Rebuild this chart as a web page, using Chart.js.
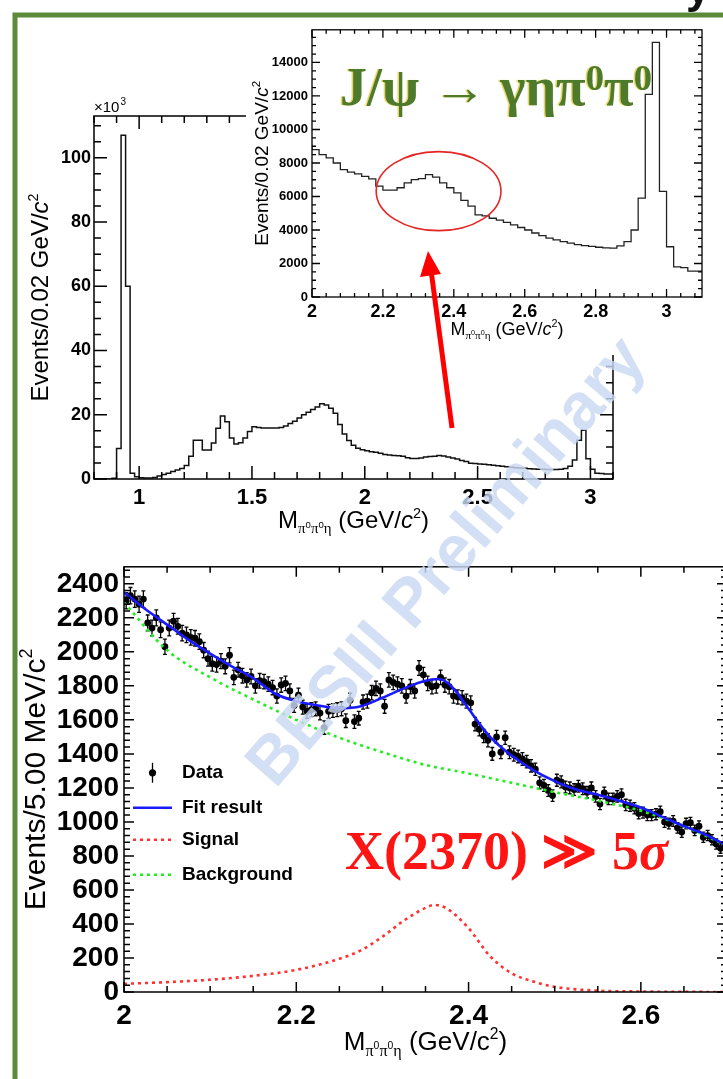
<!DOCTYPE html>
<html>
<head>
<meta charset="utf-8">
<script src="https://cdn.jsdelivr.net/npm/chart.js@4.4.1/dist/chart.umd.min.js"></script>
<style>
  html, body { margin: 0; padding: 0; background: #fff; }
  body { width: 723px; height: 1079px; overflow: hidden; position: relative; }
  canvas { position: absolute; }
  #cMain { left: 10px; top: 95px; }
  #cInset { left: 246px; top: 18px; }
  #cFit { left: 0; top: 545px; }
  #overlay { left: 0; top: 0; z-index: 5; pointer-events: none; }
  .txt { position: absolute; white-space: nowrap; font-family: "Liberation Serif", "DejaVu Serif", serif;
         font-weight: bold; line-height: 1; z-index: 6; }
  .txt .up { position: relative; top: -0.42em; font-size: 0.68em; }
  #title { left: 340px; top: 60px; font-size: 54px; color: #4e7b2b; text-shadow: -1.5px 0 1px rgba(215,185,0,0.65); }
  #signif { left: 345px; top: 824px; font-size: 54px; color: #ff1414; }
</style>
</head>
<body>
<canvas id="cMain" width="630" height="450"></canvas>
<canvas id="cInset" width="477" height="337"></canvas>
<canvas id="cFit" width="740" height="534"></canvas>
<canvas id="overlay" width="723" height="1079"></canvas>
<div class="txt" id="title">J/ψ → γηπ<span class="up">0</span>π<span class="up">0</span></div>
<div class="txt" id="signif">X(2370) ≫ 5<i>σ</i></div>

<script>
Chart.defaults.font.family = "'Liberation Sans', Arial, sans-serif";
Chart.defaults.color = "#000";

// M(pi0 pi0 eta) histogram, 0.02 GeV bins starting at 0.80
const histStart = 0.8;
const histBin = 0.02;
const histCounts = [
  0, 0, 0, 0, 0, 200, 9500, 107000, 60000, 1800,
  700, 400, 300, 300, 500, 900, 1400, 1800, 2300, 2800,
  3300, 4200, 7100, 12100, 12100, 9000, 9000, 11200, 15800, 19600,
  17800, 12800, 10900, 11300, 12800, 14800, 16300, 16000, 15900, 15900,
  15900, 15900, 16000, 16500, 17300, 18000, 19000, 20000, 20800, 21600,
  22400, 23400, 23000, 22000, 20500, 17000, 14000, 12000, 10500, 9600,
  9100, 8800, 8500, 8300, 8000, 7600, 7450, 7350, 7200, 7050,
  6620, 6380, 6380, 6520, 6810, 7010, 7070, 7300, 7150, 6810,
  6520, 6220, 5770, 5430, 4900, 4840, 4700, 4590, 4450, 4310,
  4150, 4000, 3820, 3660, 3520, 3410, 3310, 3210, 3130, 3070,
  3020, 2970, 2930, 2920, 3050, 3300, 4000, 5900, 12100, 15200,
  6300, 3000, 1800, 1750, 1550
];
const mainXTicks = [1, 1.5, 2, 2.5, 3];
const mainYTicks = [0, 20000, 40000, 60000, 80000, 100000];
const insetXTicks = [2, 2.2, 2.4, 2.6, 2.8, 3];
const insetYTicks = [0, 2000, 4000, 6000, 8000, 10000, 12000, 14000];

// fit region, 5 MeV bins starting at 2.000
const fitStart = 2.0;
const fitBin = 0.005;
const fitCounts = [
  2300, 2330, 2310, 2280, 2310, 2170, 2140, 2200, 2130, 2030,
  2140, 2180, 2150, 2110, 2100, 2085, 2080, 2060, 2010, 1960,
  1930, 1925, 1945, 1915, 1980, 1850, 1895, 1860, 1835, 1855,
  1800, 1830, 1825, 1810, 1790, 1740, 1805, 1815, 1770, 1685,
  1745, 1675, 1650, 1660, 1665, 1640, 1555, 1650, 1655, 1660,
  1665, 1595, 1715, 1590, 1610, 1705, 1710, 1760, 1785, 1770,
  1680, 1835, 1820, 1810, 1800, 1740, 1795, 1770, 1905, 1865,
  1815, 1795, 1800, 1850, 1805, 1795, 1740, 1735, 1730, 1710,
  1700, 1575, 1545, 1505, 1480, 1400, 1500, 1410, 1495, 1410,
  1395, 1385, 1370, 1355, 1330, 1310, 1230, 1215, 1185, 1155,
  1245, 1235, 1205, 1200, 1190, 1210, 1195, 1175, 1200, 1150,
  1105, 1170, 1135, 1135, 1150, 1160, 1100, 1095, 1080, 1050,
  1055, 1040, 1040, 1045, 1060, 1000, 990, 1005, 965, 940,
  990, 995, 950, 975, 910, 920, 895, 870, 845, 870
];
const totalX = [2.000, 2.025, 2.050, 2.075, 2.100, 2.125, 2.150, 2.175, 2.200, 2.225, 2.250, 2.275, 2.300, 2.325,
  2.350, 2.365, 2.375, 2.385, 2.400, 2.425, 2.450, 2.475, 2.500, 2.525, 2.550, 2.575, 2.600, 2.625, 2.650, 2.675, 2.700];
const totalY = [2350, 2250, 2160, 2070, 1990, 1915, 1846, 1755, 1710, 1685, 1668, 1680, 1730, 1785,
  1830, 1840, 1820, 1770, 1665, 1500, 1390, 1305, 1240, 1190, 1160, 1125, 1085, 1030, 975, 925, 860];
const bkgX = [2.00, 2.05, 2.10, 2.15, 2.20, 2.25, 2.30, 2.35, 2.40, 2.45, 2.50, 2.55, 2.60, 2.65, 2.70];
const bkgY = [2290, 2010, 1850, 1720, 1600, 1495, 1410, 1335, 1285, 1230, 1175, 1125, 1065, 975, 860];
const sigX = [2.00, 2.05, 2.10, 2.15, 2.20, 2.25, 2.275, 2.30, 2.325, 2.35, 2.36, 2.375, 2.40, 2.425, 2.45,
  2.475, 2.50, 2.55, 2.60, 2.65, 2.70];
const sigY = [48, 58, 72, 95, 130, 195, 245, 325, 420, 495, 512, 490, 375, 210, 110, 62, 30, 8, 3, 1, 0];
const fitXTicks = [2, 2.2, 2.4, 2.6];
const fitYTicks = [0, 200, 400, 600, 800, 1000, 1200, 1400, 1600, 1800, 2000, 2200, 2400];

const legendRows = ["Data", "Fit result", "Signal", "Background"];

// ---- helpers ----
const histPts = histCounts.map((v, i) => ({ x: +(histStart + i * histBin).toFixed(2), y: v }));
histPts.push({ x: +(histStart + histCounts.length * histBin).toFixed(2), y: histCounts[histCounts.length - 1] });

const pairs = (xs, ys) => xs.map((x, i) => ({ x: x, y: ys[i] }));

function axis(min, max, ticks, fmt, font, pad, size, isX) {
  return {
    type: "linear", min: min, max: max,
    afterBuildTicks: (s) => { s.ticks = ticks.map((v) => ({ value: v })); },
    afterFit: (s) => { if (isX) s.height = size; else s.width = size; },
    grid: { display: false, drawTicks: false },
    border: { display: false },
    ticks: { font: font, color: "#000", padding: pad, maxRotation: 0, autoSkip: false, callback: fmt }
  };
}

function fontOf(p, base) {
  const sz = (p.k || 1) * base;
  const fam = p.serif ? "'Liberation Serif', serif" : "'Liberation Sans', Arial, sans-serif";
  return (p.it ? "italic " : "") + (p.b ? "bold " : "") + sz + "px " + fam;
}

// draws a run of text parts centred on (x, y) baseline; rot = vertical
function rich(ctx, parts, x, y, base, rot) {
  ctx.save();
  ctx.translate(x, y);
  if (rot) ctx.rotate(-Math.PI / 2);
  ctx.textAlign = "left";
  ctx.textBaseline = "alphabetic";
  ctx.fillStyle = "#000";
  let w = 0;
  const ws = parts.map((p) => { ctx.font = fontOf(p, base); const m = ctx.measureText(p.t).width; w += m; return m; });
  let cx = -w / 2;
  parts.forEach((p, i) => {
    ctx.font = fontOf(p, base);
    ctx.fillText(p.t, cx, (p.dy || 0) * base);
    cx += ws[i];
  });
  ctx.restore();
}

function massTitle(italicC) {
  return [
    { t: "M" },
    { t: "π", k: 0.62, dy: 0.22, serif: 1 }, { t: "0", k: 0.4, dy: -0.02 },
    { t: "π", k: 0.62, dy: 0.22, serif: 1 }, { t: "0", k: 0.4, dy: -0.02 },
    { t: "η", k: 0.62, dy: 0.22, serif: 1 },
    { t: " (GeV/" }, { t: "c", it: italicC }, { t: "2", k: 0.6, dy: -0.42 }, { t: ")" }
  ];
}

// ROOT-like frame with inward ticks on all four sides plus axis titles
function frame(o) {
  return {
    id: "frame",
    beforeDraw(chart) {
      if (!o.bg) return;
      const ctx = chart.ctx;
      ctx.save();
      ctx.fillStyle = "#fff";
      ctx.fillRect(0, 0, chart.width, chart.height);
      ctx.restore();
    },
    afterDraw(chart) {
      const ctx = chart.ctx, a = chart.chartArea, x = chart.scales.x, y = chart.scales.y;
      ctx.save();
      ctx.strokeStyle = "#000";
      ctx.lineWidth = o.lw;
      ctx.strokeRect(a.left, a.top, a.right - a.left, a.bottom - a.top);
      ctx.beginPath();
      const nx = Math.floor((x.max - x.min) / o.xMinor + 1e-6);
      for (let i = 0; i <= nx; i++) {
        const v = x.min + i * o.xMinor;
        const maj = Math.abs(v / o.xMajor - Math.round(v / o.xMajor)) < 1e-6;
        const L = maj ? o.majLen : o.minLen;
        const p = x.getPixelForValue(v);
        ctx.moveTo(p, a.bottom); ctx.lineTo(p, a.bottom - L);
        ctx.moveTo(p, a.top); ctx.lineTo(p, a.top + L);
      }
      const ny = Math.floor((y.max - y.min) / o.yMinor + 1e-6);
      for (let i = 0; i <= ny; i++) {
        const v = y.min + i * o.yMinor;
        const maj = Math.abs(v / o.yMajor - Math.round(v / o.yMajor)) < 1e-6;
        const L = maj ? o.majLen : o.minLen;
        const p = y.getPixelForValue(v);
        ctx.moveTo(a.left, p); ctx.lineTo(a.left + L, p);
        ctx.moveTo(a.right, p); ctx.lineTo(a.right - L, p);
      }
      ctx.stroke();
      ctx.restore();
      rich(ctx, o.xTitle, (a.left + a.right) / 2, a.bottom + o.xTitleGap, o.xTitleSize, false);
      rich(ctx, o.yTitle, a.left - o.yTitleGap, (a.top + a.bottom) / 2, o.yTitleSize, true);
      if (o.extra) o.extra(chart);
    }
  };
}

const yEvents = [{ t: "Events/0.02 GeV/" }, { t: "c", it: 1 }, { t: "2", k: 0.6, dy: -0.42 }];

// ---- main histogram ----
new Chart(document.getElementById("cMain"), {
  type: "line",
  data: { datasets: [{ data: histPts, stepped: "after", borderColor: "#111", borderWidth: 1.5, pointRadius: 0, fill: false }] },
  options: {
    responsive: false, animation: false, devicePixelRatio: 1,
    layout: { padding: { top: 21, right: 27, left: 0, bottom: 0 } },
    plugins: { legend: { display: false }, tooltip: { enabled: false } },
    scales: {
      x: axis(0.8, 3.1, mainXTicks, (v) => String(v), { size: 22, weight: "bold" }, 6, 66, true),
      y: axis(0, 113000, mainYTicks, (v) => String(v / 1000), { size: 18, weight: "bold" }, 3, 84, false)
    }
  },
  plugins: [frame({
    lw: 1.5, xMinor: 0.1, xMajor: 0.5, yMinor: 5000, yMajor: 20000, majLen: 13, minLen: 7,
    xTitle: massTitle(1), xTitleGap: 49, xTitleSize: 24,
    yTitle: yEvents, yTitleGap: 46, yTitleSize: 24,
    extra(chart) {
      const a = chart.chartArea;
      const ctx = chart.ctx;
      ctx.save();
      ctx.fillStyle = "#000";
      ctx.font = "15px 'Liberation Sans'";
      ctx.fillText("×10", a.left, a.top - 4);
      const w = ctx.measureText("×10").width;
      ctx.font = "10px 'Liberation Sans'";
      ctx.fillText("3", a.left + w + 1, a.top - 11);
      ctx.restore();
    }
  })]
});

// ---- inset, zoom on 2.0 - 3.1 ----
new Chart(document.getElementById("cInset"), {
  type: "line",
  data: { datasets: [{ data: histPts.filter((p) => p.x >= 2 - 1e-9), stepped: "after", borderColor: "#222", borderWidth: 1.3, pointRadius: 0, fill: false }] },
  options: {
    responsive: false, animation: false, devicePixelRatio: 1,
    layout: { padding: { top: 10, right: 21, left: 0, bottom: 0 } },
    plugins: { legend: { display: false }, tooltip: { enabled: false } },
    scales: {
      x: axis(2, 3.1, insetXTicks, (v) => String(v), { size: 18, weight: "bold" }, 4, 58, true),
      y: axis(0, 15950, insetYTicks, (v) => String(v), { size: 13, weight: "bold" }, 4, 66, false)
    }
  },
  plugins: [frame({
    bg: true, lw: 1.3, xMinor: 0.04, xMajor: 0.2, yMinor: 500, yMajor: 2000, majLen: 8, minLen: 4,
    xTitle: massTitle(1), xTitleGap: 38, xTitleSize: 18,
    yTitle: yEvents, yTitleGap: 44, yTitleSize: 19,
    extra(chart) {
      const x = chart.scales.x, y = chart.scales.y, ctx = chart.ctx;
      const cx = x.getPixelForValue(2.357), cy = y.getPixelForValue(6320);
      const rx = x.getPixelForValue(2.357 + 0.176) - cx, ry = cy - y.getPixelForValue(6320 + 2360);
      ctx.save();
      ctx.strokeStyle = "#e52424";
      ctx.lineWidth = 1.6;
      ctx.beginPath();
      ctx.ellipse(cx, cy, rx, ry, 0, 0, Math.PI * 2);
      ctx.stroke();
      ctx.restore();
    }
  })]
});

// ---- fit plot ----
const errorBars = {
  id: "errorBars",
  beforeDatasetsDraw(chart) {
    const ctx = chart.ctx, a = chart.chartArea, x = chart.scales.x, y = chart.scales.y;
    ctx.save();
    ctx.beginPath();
    ctx.rect(a.left, a.top, a.right - a.left, a.bottom - a.top);
    ctx.clip();
    ctx.strokeStyle = "#000";
    ctx.lineWidth = 1.3;
    ctx.beginPath();
    fitCounts.forEach((v, i) => {
      const px = x.getPixelForValue(fitStart + (i + 0.5) * fitBin);
      const e = Math.sqrt(v);
      const p1 = y.getPixelForValue(v + e), p2 = y.getPixelForValue(v - e);
      ctx.moveTo(px, p1); ctx.lineTo(px, p2);
      ctx.moveTo(px - 2, p1); ctx.lineTo(px + 2, p1);
      ctx.moveTo(px - 2, p2); ctx.lineTo(px + 2, p2);
    });
    ctx.stroke();
    ctx.restore();
  }
};

function fitLegend(chart) {
  const ctx = chart.ctx, a = chart.chartArea;
  const x0 = a.left + 9, x1 = a.left + 48, tx = a.left + 58;
  const rows = [206, 241, 273, 308];
  ctx.save();
  ctx.font = "bold 19px 'Liberation Sans'";
  ctx.textBaseline = "middle";
  ctx.fillStyle = "#000";
  legendRows.forEach((t, i) => ctx.fillText(t, tx, a.top + rows[i]));
  const mx = (x0 + x1) / 2;
  ctx.strokeStyle = "#000";
  ctx.lineWidth = 1.3;
  ctx.beginPath();
  ctx.moveTo(mx, a.top + rows[0] - 10); ctx.lineTo(mx, a.top + rows[0] + 10);
  ctx.stroke();
  ctx.beginPath();
  ctx.arc(mx, a.top + rows[0], 3.6, 0, Math.PI * 2);
  ctx.fill();
  const styles = [["#1a1aff", []], ["#ff3030", [3, 4]], ["#22ee22", [3, 4]]];
  styles.forEach((s, i) => {
    ctx.strokeStyle = s[0];
    ctx.setLineDash(s[1]);
    ctx.lineWidth = 2.6;
    ctx.beginPath();
    ctx.moveTo(x0, a.top + rows[i + 1]); ctx.lineTo(x1, a.top + rows[i + 1]);
    ctx.stroke();
  });
  ctx.restore();
}

new Chart(document.getElementById("cFit"), {
  type: "line",
  data: {
    datasets: [
      { label: "Fit result", data: pairs(totalX, totalY), borderColor: "#1a1aff", borderWidth: 2.6,
        cubicInterpolationMode: "monotone", pointRadius: 0, fill: false },
      { label: "Signal", data: pairs(sigX, sigY), borderColor: "#ff3030", borderWidth: 2.6, borderDash: [3, 4],
        cubicInterpolationMode: "monotone", pointRadius: 0, fill: false },
      { label: "Background", data: pairs(bkgX, bkgY), borderColor: "#22ee22", borderWidth: 2.6, borderDash: [3, 4],
        cubicInterpolationMode: "monotone", pointRadius: 0, fill: false },
      { label: "Data", data: fitCounts.map((v, i) => ({ x: fitStart + (i + 0.5) * fitBin, y: v })),
        showLine: false, pointRadius: 3.4, pointBackgroundColor: "#000", pointBorderWidth: 0 }
    ]
  },
  options: {
    responsive: false, animation: false, devicePixelRatio: 1,
    layout: { padding: { top: 19, right: 13, left: 0, bottom: 0 } },
    plugins: { legend: { display: false }, tooltip: { enabled: false } },
    scales: {
      x: axis(2, 2.7, fitXTicks, (v) => String(v), { size: 28, weight: "bold" }, 7, 87, true),
      y: axis(0, 2500, fitYTicks, (v) => String(v), { size: 28, weight: "bold" }, 5, 124, false)
    }
  },
  plugins: [errorBars, frame({
    lw: 1.5, xMinor: 0.05, xMajor: 0.2, yMinor: 40, yMajor: 200, majLen: 10, minLen: 6,
    xTitle: massTitle(0), xTitleGap: 58, xTitleSize: 26,
    yTitle: [{ t: "Events/5.00 MeV/c" }, { t: "2", k: 0.6, dy: -0.42 }], yTitleGap: 79, yTitleSize: 30,
    extra: fitLegend
  })]
});

// ---- slide decorations ----
const ov = document.getElementById("overlay").getContext("2d");
ov.fillStyle = "#111";
ov.font = "bold 44px 'Liberation Sans'";
ov.fillText("y", 686, 3);

ov.strokeStyle = "#5b8a3a";
ov.lineWidth = 5;
ov.beginPath();
ov.moveTo(15, 1079); ov.lineTo(15, 15); ov.lineTo(723, 15);
ov.stroke();

// red arrow pointing at the bump
ov.strokeStyle = "#ff0000";
ov.fillStyle = "#ff0000";
ov.lineWidth = 5;
ov.beginPath();
ov.moveTo(452, 428); ov.lineTo(431, 270);
ov.stroke();
ov.beginPath();
ov.moveTo(428, 251); ov.lineTo(441, 274); ov.lineTo(420, 277); ov.closePath();
ov.fill();

// watermark
ov.save();
ov.translate(448, 563);
ov.rotate(-49 * Math.PI / 180);
ov.font = "bold 66px 'Liberation Sans'";
ov.textAlign = "center";
ov.textBaseline = "middle";
ov.fillStyle = "rgba(200, 216, 242, 0.82)";
ov.fillText("BESIII Preliminary", 0, 0);
ov.restore();
</script>
</body>
</html>
